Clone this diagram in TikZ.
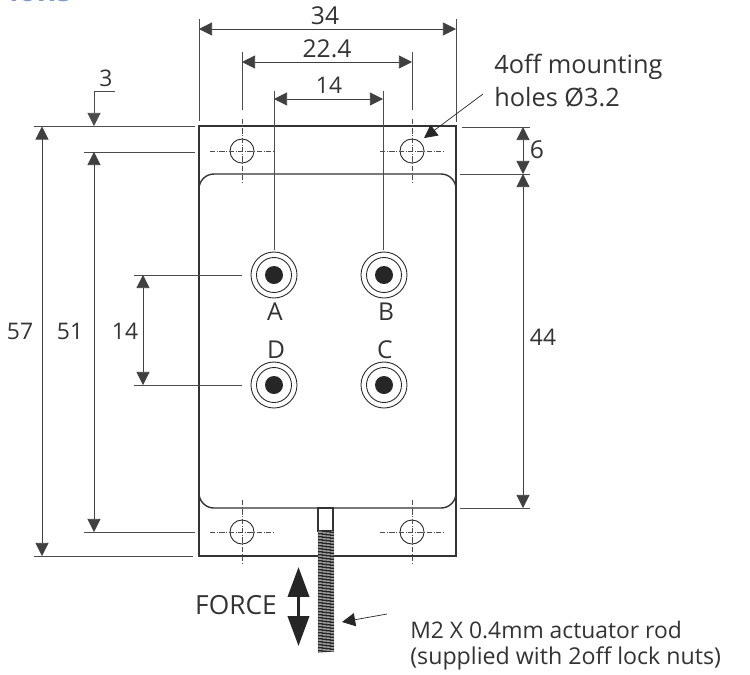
\documentclass[tikz,border=0pt]{standalone}
\usepackage{fontspec}
\setmainfont{Open Sans}
\usetikzlibrary{arrows.meta}
\definecolor{headblue}{RGB}{125,155,205}
\tikzset{
	dim/.style={draw=black!75, line width=0.5pt, {Triangle[length=7.5pt,width=7.5pt]}-{Triangle[length=7.5pt,width=7.5pt]}},
	ext/.style={draw=black!70, line width=0.5pt},
	lead/.style={draw=black!85, line width=0.4pt, -{Triangle[length=7.5pt,width=7.5pt]}},
	body/.style={draw=black!80, line width=0.8pt},
	centre/.style={draw=black!70, line width=0.3pt, densely dash dot},
	txt/.style={draw=none, fill=none, text=black!80, font=\fontsize{13}{15}\selectfont, inner sep=0pt},
	bigtxt/.style={txt, font=\fontsize{14}{16}\selectfont},
}
\begin{document}
\begin{tikzpicture}[x=0.02cm, y=-0.02cm]
	\useasboundingbox (0,0) rectangle (750,674);

	%naglowek
	\node[txt, anchor=base west, text=headblue, font=\fontsize{17}{19}\selectfont\bfseries] (heading) at (9,1) {ions};

	%podstawa
	\draw[body] (199,126) rectangle (456,556);
	\draw[body, rounded corners=8.5pt] (199,174) rectangle (456,508);

	%otwory
	\foreach \hx/\hy in {242/151, 412/151, 242/532, 412/532}{
		\draw[black!85, line width=0.5pt] (\hx,\hy) circle (12);
		\draw[centre] (\hx-32,\hy) -- (\hx+32,\hy);
		\draw[centre] (\hx,\hy-32) -- (\hx,\hy+32);
	}

	%kolki
	\foreach \sx/\sy in {274/275, 384/275, 274/385, 384/385}{
		\draw[black!85, line width=0.5pt] (\sx,\sy) circle (23);
		\draw[black!85, line width=0.5pt] (\sx,\sy) circle (17.5);
		\fill[black!85] (\sx,\sy) circle (9);
	}

	%pret
	\draw[body] (318,508) rectangle (333,531);
	\fill[white] (318,531) rectangle (334,651);
	\foreach \ry in {532,533.5,...,652}{
		\draw[black!85, line width=0.6pt] (318,\ry) -- (334,\ry-1);
	}

	%linie pomocnicze
	\draw[ext] (199,19) -- (199,121);
	\draw[ext] (456,19) -- (456,122);
	\draw[ext] (242,52) -- (242,110);
	\draw[ext] (412,52) -- (412,110);
	\draw[ext] (274,91) -- (274,250);
	\draw[ext] (383,91) -- (383,250);
	\draw[ext] (34,126.5) -- (195,126.5);
	\draw[ext] (84,152) -- (195,152);
	\draw[ext] (84,532) -- (195,532);
	\draw[ext] (34,556) -- (193,556);
	\draw[ext] (134,275) -- (242,275);
	\draw[ext] (134,385) -- (242,385);
	\draw[ext] (462,127) -- (530,127);
	\draw[ext] (460,174) -- (530,174);
	\draw[ext] (460,508) -- (530,508);

	%wymiary
	\draw[dim] (199,29) -- (456,29);
	\draw[dim] (242,62) -- (412,62);
	\draw[dim] (274,99) -- (383,99);
	\draw[dim] (42,126.5) -- (42,556);
	\draw[dim] (94,152) -- (94,532);
	\draw[dim] (143,275) -- (143,385);
	\draw[dim] (523,127) -- (523,174);
	\draw[dim] (523,174) -- (523,508);
	\draw[lead, draw=black!70, line width=0.5pt] (115,91) -- (94,91) -- (94,126);

	%strzalki opisow
	\draw[lead] (483,94) -- (424,138);
	\draw[lead] (387,614) -- (342,622);
	\draw[line width=1.9pt, black!85, {Triangle[length=17pt,width=12pt]}-{Triangle[length=17pt,width=12pt]}] (298.5,567) -- (298.5,646);

	%opisy
	\node[bigtxt] (lab34) at (325,16) {34};
	\node[bigtxt] (lab224) at (327,49) {22.4};
	\node[txt] (lab14top) at (329,85) {14};
	\node[txt] (lab3) at (106,78) {3};
	\node[bigtxt] (lab6) at (537,150) {6};
	\node[txt] (lab44) at (543,337) {44};
	\node[txt] (lab57) at (20,331) {57};
	\node[txt] (lab51) at (70,331) {51};
	\node[txt] (lab14) at (125,331) {14};
	\node[bigtxt] (labA) at (275,312) {A};
	\node[bigtxt] (labB) at (386,312) {B};
	\node[bigtxt] (labD) at (276,350) {D};
	\node[bigtxt] (labC) at (385,350) {C};
	\node[txt, font=\fontsize{15}{17}\selectfont] (force) at (236,605) {FORCE};
	\node[bigtxt, font=\fontsize{14.4}{16}\selectfont, anchor=west] (holes1) at (494,67) {4off mounting};
	\node[bigtxt, font=\fontsize{14.4}{16}\selectfont, anchor=west] (holes2) at (494,97) {holes Ø3.2};
	\node[txt, anchor=west] (rod1) at (410,630) {M2 X 0.4mm actuator rod};
	\node[txt, font=\fontsize{13.2}{15}\selectfont, anchor=west] (rod2) at (410,658) {(supplied with 2off lock nuts)};
\end{tikzpicture}
\end{document}
